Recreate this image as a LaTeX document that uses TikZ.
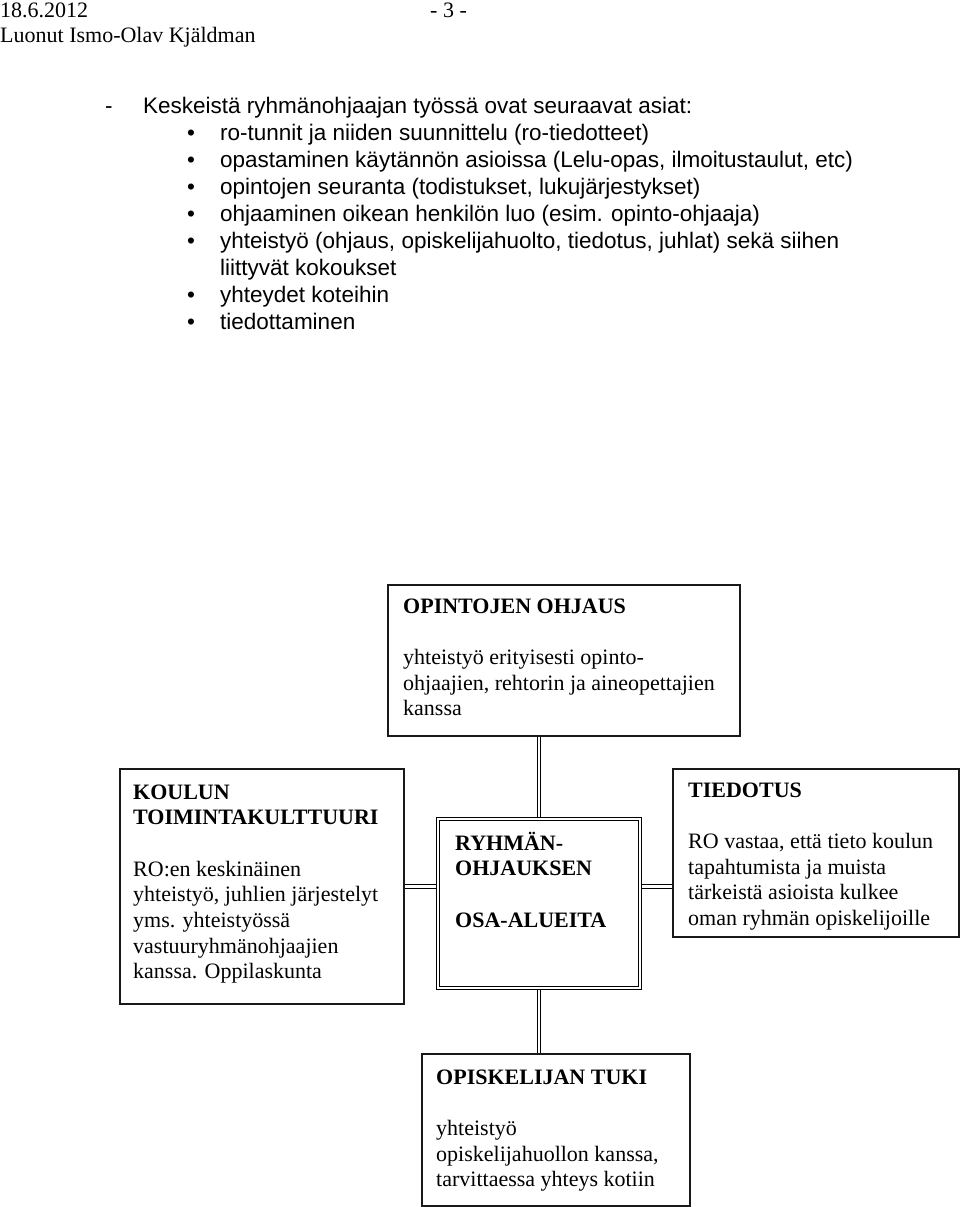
\documentclass[tikz,border=0pt]{standalone}
\usepackage{fontspec}
\setmainfont{Liberation Serif}
\newfontfamily\arialf{Liberation Sans}
\usetikzlibrary{backgrounds}
\newcommand{\boxlines}[1]{\begin{tabular}[t]{@{}l@{}}#1\end{tabular}}
\tikzset{
  box/.style={draw=black!90, line width=1.4pt, rectangle, inner sep=0pt},
  mainbox/.style={draw=black, line width=1.2pt, double, double distance=2.4pt, rectangle, inner sep=0pt},
  conn/.style={draw=black, line width=1.25pt, double, double distance=2.2pt},
  btext/.style={anchor=base west, inner sep=0pt, font=\fontsize{22}{25.7}\selectfont},
  ltext/.style={anchor=base west, inner sep=0pt, font=\arialf\fontsize{22.5}{27}\selectfont},
  bul/.style={anchor=base, inner sep=0pt, font=\arialf\fontsize{22.5}{27}\selectfont},
  htext/.style={anchor=base west, inner sep=0pt, font=\fontsize{22}{25}\selectfont}
}
\begin{document}
\begin{tikzpicture}[x=1pt, y=-1pt]
\useasboundingbox (0,0) rectangle (960,1207);
% header
\node[htext] (date) at (0,18) {18.6.2012};
\node[htext] (page) at (430,18) {- 3 -};
\node[htext] (author) at (0,43) {Luonut Ismo-Olav Kjäldman};
% list
\node[ltext] (dash) at (105,113) {-};
\node[ltext] (intro) at (143,113) {Keskeistä ryhmänohjaajan työssä ovat seuraavat asiat:};
\node[bul] (b1) at (191,140) {•};
\node[ltext] (l1) at (220,140) {ro-tunnit ja niiden suunnittelu (ro-tiedotteet)};
\node[bul] (b2) at (191,167) {•};
\node[ltext] (l2) at (220,167) {opastaminen käytännön asioissa (Lelu-opas, ilmoitustaulut, etc)};
\node[bul] (b3) at (191,194) {•};
\node[ltext] (l3) at (220,194) {opintojen seuranta (todistukset, lukujärjestykset)};
\node[bul] (b4) at (191,221) {•};
\node[ltext] (l4) at (220,221) {ohjaaminen oikean henkilön luo (esim. opinto-ohjaaja)};
\node[bul] (b5) at (191,248) {•};
\node[ltext] (l5) at (220,248) {yhteistyö (ohjaus, opiskelijahuolto, tiedotus, juhlat) sekä siihen};
\node[ltext] (l5b) at (220,275) {liittyvät kokoukset};
\node[bul] (b6) at (191,302) {•};
\node[ltext] (l6) at (220,302) {yhteydet koteihin};
\node[bul] (b7) at (191,329) {•};
\node[ltext] (l7) at (220,329) {tiedottaminen};
% boxes
\node[box, minimum width=352pt, minimum height=151pt] (top) at (564,660.5) {};
\node[box, minimum width=284pt, minimum height=235pt] (left) at (262,886.5) {};
\node[mainbox, minimum width=202pt, minimum height=169pt] (center) at (539,903.5) {};
\node[box, minimum width=286pt, minimum height=168pt] (right) at (816,853) {};
\node[box, minimum width=268pt, minimum height=152pt] (bottom) at (556,1130) {};
% box texts
\node[btext] (toptext) at (403,613) {\boxlines{\textbf{OPINTOJEN OHJAUS}\\ \\ yhteistyö erityisesti opinto-\\ ohjaajien, rehtorin ja aineopettajien\\ kanssa}};
\node[btext] (lefttext) at (133,799) {\boxlines{\textbf{KOULUN}\\ \textbf{TOIMINTAKULTTUURI}\\ \\ RO:en keskinäinen\\ yhteistyö, juhlien järjestelyt\\ yms. yhteistyössä\\ vastuuryhmänohjaajien\\ kanssa. Oppilaskunta}};
\node[btext] (centertext) at (455,850) {\boxlines{\textbf{RYHMÄN-}\\ \textbf{OHJAUKSEN}\\ \\ \textbf{OSA-ALUEITA}}};
\node[btext] (righttext) at (688,797) {\boxlines{\textbf{TIEDOTUS}\\ \\ RO vastaa, että tieto koulun\\ tapahtumista ja muista\\ tärkeistä asioista kulkee\\ oman ryhmän opiskelijoille}};
\node[btext] (bottomtext) at (436,1084) {\boxlines{\textbf{OPISKELIJAN TUKI}\\ \\ yhteistyö\\ opiskelijahuollon kanssa,\\ tarvittaessa yhteys kotiin}};
% connectors
\begin{scope}[on background layer]
\draw[conn] (center.north) -- (center.north |- top.south);
\draw[conn] (center.south) -- (center.south |- bottom.north);
\draw[conn] (left.east) -- (left.east -| center.west);
\draw[conn] (left.east -| center.east) -- (left.east -| right.west);
\end{scope}
\end{tikzpicture}
\end{document}
